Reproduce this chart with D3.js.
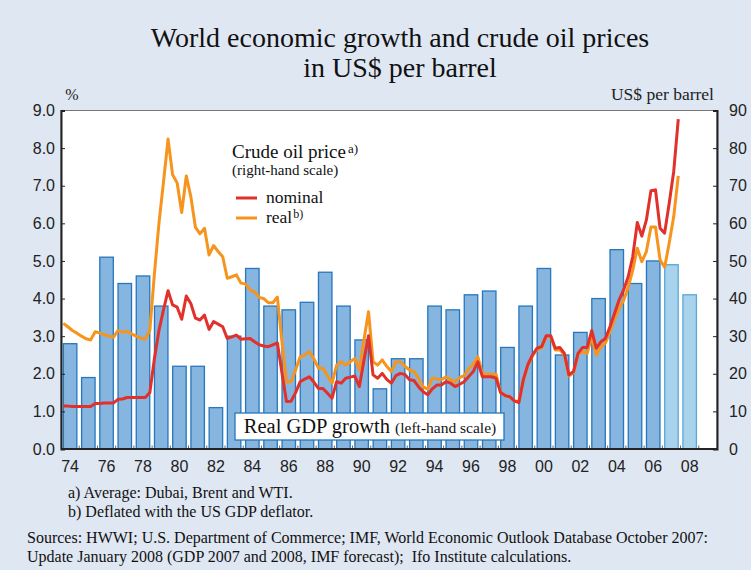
<!DOCTYPE html>
<html>
<head>
<meta charset="utf-8">
<script src="https://cdn.jsdelivr.net/npm/d3@7"></script>
<style>
  html, body { margin: 0; padding: 0; background: #dfe7f3; }
  svg { display: block; }
</style>
</head>
<body>
<svg id="chart"></svg>
<script>
// GDP growth, % (left-hand scale); 2007 and 2008 are IMF forecasts
var years = d3.range(1974, 2009)
var gdp = [2.8, 1.9, 5.1, 4.4, 4.6, 3.8, 2.2, 2.2, 1.1, 3.0,
           4.8, 3.8, 3.7, 3.9, 4.7, 3.8, 2.9, 1.6, 2.4, 2.4,
           3.8, 3.7, 4.1, 4.2, 2.7, 3.8, 4.8, 2.5, 3.1, 4.0,
           5.3, 4.4, 5.0, 4.9, 4.1]
var forecastYears = [2007, 2008]

// crude oil price, US$ per barrel, quarterly 1974Q1 .. 2007Q4 (one row per year)
var nominal = [
  11.4, 11.4, 11.3, 11.3,  11.3, 11.3, 11.3, 12.1,  12.1, 12.2, 12.2, 12.2,
  13.2, 13.3, 13.7, 13.7,  13.7, 13.7, 13.7, 15.0,  24.0, 31.5, 37.0, 42.1,
  38.3, 37.7, 34.5, 40.7,  38.7, 34.8, 34.3, 35.6,  31.8, 33.9, 33.2, 32.5,
  29.4, 29.8, 30.3, 29.2,  29.3, 29.4, 28.5, 27.7,  27.4, 27.2, 27.7, 28.2,
  20.3, 12.6, 12.7, 15.0,  17.9, 18.6, 19.2, 17.8,  16.1, 16.1, 14.8, 13.5,
  17.9, 17.5, 18.8, 19.1,  19.4, 16.6, 23.5, 30.1,  19.7, 18.8, 20.1, 18.5,
  17.5, 19.5, 20.1, 19.8,  18.4, 18.2, 16.5, 15.2,  14.4, 16.0, 17.0, 17.0,
  17.9, 17.5, 16.6, 17.2,  17.9, 19.3, 20.6, 23.2,  19.2, 19.2, 19.2, 18.8,
  15.0, 14.2, 13.9, 12.8,  12.3, 18.5, 22.5, 25.0,  26.8, 27.2, 30.1, 30.1,
  26.8, 27.0, 25.4, 19.7,  20.6, 25.4, 27.0, 27.0,  31.5, 26.8, 28.5, 29.4,
  32.5, 36.0, 39.6, 42.3,  45.8, 51.1, 60.2, 56.6,  60.9, 68.7, 68.9, 58.7,
  57.4, 65.3, 73.8, 87.7
]
var real = [
  33.4, 32.5, 31.5, 30.8,  30.0, 29.3, 29.0, 31.2,  30.8, 30.4, 30.0, 29.7,
  31.5, 31.0, 31.3, 30.6,  30.0, 29.5, 29.2, 31.6,  46.5, 60.0, 71.0, 82.4,
  72.9, 70.7, 62.9, 72.6,  67.1, 59.0, 57.2, 58.7,  51.6, 54.1, 52.5, 51.1,
  45.4, 45.8, 46.3, 44.1,  43.9, 42.3, 41.8, 40.3,  40.0, 38.9, 38.9, 40.4,
  28.5, 17.9, 17.9, 21.0,  24.5, 25.0, 25.9, 24.0,  21.5, 21.5, 19.5, 17.5,
  22.3, 23.2, 22.3, 23.2,  24.1, 21.0, 29.0, 36.5,  23.2, 22.3, 23.7, 22.0,
  20.6, 23.2, 23.2, 22.0,  21.0, 20.6, 18.8, 16.5,  15.9, 18.8, 18.6, 18.4,
  19.2, 18.4, 17.9, 19.0,  19.5, 21.4, 22.5, 24.5,  20.1, 19.9, 19.9, 19.9,
  15.0, 14.2, 13.9, 12.8,  12.6, 18.3, 22.3, 24.8,  26.5, 26.9, 29.9, 29.9,
  26.3, 26.4, 25.0, 19.4,  20.3, 25.2, 25.9, 25.4,  29.9, 25.0, 27.2, 28.1,
  31.2, 34.5, 37.4, 39.5,  43.0, 47.5, 53.4, 49.8,  52.5, 59.0, 59.0, 50.3,
  48.3, 54.7, 61.8, 72.6
]

var leftTicks = d3.range(0, 9.01, 1)
var rightTicks = d3.range(0, 91, 10)
var xLabelYears = d3.range(1974, 2009, 2)

var title = ["World economic growth and crude oil prices", "in US$ per barrel"]
var notes = ["a) Average: Dubai, Brent and WTI.", "b) Deflated with the US GDP deflator."]
var sources = ["Sources: HWWI; U.S. Department of Commerce; IMF, World Economic Outlook Database October 2007:",
               "Update January 2008 (GDP 2007 and 2008, IMF forecast);  Ifo Institute calculations."]

var width = 751, height = 570
var margin = {top: 110.5, right: 34, bottom: 121, left: 61}
var serif = "'Liberation Serif', 'Times New Roman', serif"
var sans = "'Liberation Sans', Arial, sans-serif"

var svg = d3.select("#chart").attr("width", width).attr("height", height)
svg.append("rect").attr("width", width).attr("height", height).attr("fill", "#dfe7f3")

var plotRight = width - margin.right
var plotBottom = height - margin.bottom
var step = (plotRight - margin.left) / 36

var x = d3.scaleBand()
  .domain(years)
  .range([margin.left, margin.left + step * years.length])
  .paddingInner(0.26)
  .paddingOuter(0.13)
var t = d3.scaleLinear()
  .domain([1974, 2009])
  .range([margin.left, margin.left + step * years.length])
var yL = d3.scaleLinear().domain([0, 9]).range([plotBottom, margin.top])
var yR = d3.scaleLinear().domain([0, 90]).range([plotBottom, margin.top])

// plot area
svg.append("rect")
  .attr("x", margin.left).attr("y", margin.top)
  .attr("width", plotRight - margin.left).attr("height", plotBottom - margin.top)
  .attr("fill", "#fff")

// title
svg.append("g").selectAll("text").data(title).join("text")
  .attr("x", 400).attr("y", (d, i) => 47 + i * 30)
  .attr("text-anchor", "middle")
  .attr("font-family", serif).attr("font-size", 28).attr("fill", "#111")
  .text(d => d)

// bars
svg.append("g").selectAll("rect").data(years).join("rect")
  .attr("x", d => x(d))
  .attr("width", x.bandwidth())
  .attr("y", (d, i) => yL(gdp[i]))
  .attr("height", (d, i) => yL(0) - yL(gdp[i]))
  .attr("fill", d => forecastYears.includes(d) ? "#a9d3ec" : "#86b5df")
  .attr("stroke", d => forecastYears.includes(d) ? "#5aa8d8" : "#2677bd")
  .attr("stroke-width", 1.3)

// small ticks between bars
svg.append("g").selectAll("line").data(d3.range(1975, 2010)).join("line")
  .attr("x1", d => t(d)).attr("x2", d => t(d))
  .attr("y1", plotBottom).attr("y2", plotBottom - 3.5)
  .attr("stroke", "#666").attr("stroke-width", 1)

// oil price lines
var quarters = nominal.map((d, i) => 1974 + i / 4 + 0.125)
var line = d3.line()
  .x((d, i) => t(quarters[i]))
  .y(d => yR(d))
  .curve(d3.curveLinear)

svg.append("path").datum(real)
  .attr("fill", "none").attr("stroke", "#f7941d").attr("stroke-width", 3)
  .attr("stroke-linejoin", "round").attr("d", line)
svg.append("path").datum(nominal)
  .attr("fill", "none").attr("stroke", "#e2302a").attr("stroke-width", 3)
  .attr("stroke-linejoin", "round").attr("d", line)

// frame
svg.append("rect")
  .attr("x", margin.left).attr("y", margin.top)
  .attr("width", plotRight - margin.left).attr("height", plotBottom - margin.top)
  .attr("fill", "none").attr("stroke", "#777").attr("stroke-width", 1)

// axes
var leftAxis = svg.append("g")
  .attr("transform", `translate(${margin.left},0)`)
  .call(d3.axisRight(yL).tickValues(leftTicks).tickSize(4).tickFormat(d3.format(".1f")))
leftAxis.selectAll("text").attr("x", -6).attr("text-anchor", "end")
var rightAxis = svg.append("g")
  .attr("transform", `translate(${plotRight},0)`)
  .call(d3.axisLeft(yR).tickValues(rightTicks).tickSize(4).tickFormat(d3.format("d")))
rightAxis.selectAll("text").attr("x", 12).attr("text-anchor", "start")
;[leftAxis, rightAxis].forEach(a => {
  a.select(".domain").attr("stroke", "#222").attr("stroke-width", 2)
  a.selectAll(".tick line").attr("stroke", "#222")
  a.selectAll("text").attr("font-family", sans).attr("font-size", 16).attr("fill", "#222")
})
svg.append("line")
  .attr("x1", margin.left).attr("x2", plotRight)
  .attr("y1", plotBottom).attr("y2", plotBottom)
  .attr("stroke", "#222").attr("stroke-width", 2)

var xAxis = svg.append("g")
  .attr("transform", `translate(0,${plotBottom})`)
  .call(d3.axisBottom(x).tickValues(xLabelYears).tickSize(0).tickPadding(12)
    .tickFormat(d => String(d).slice(2)))
xAxis.select(".domain").remove()
xAxis.selectAll("text").attr("font-family", sans).attr("font-size", 16).attr("fill", "#222")

// axis units
svg.append("text").attr("x", 72).attr("y", 100).attr("text-anchor", "middle")
  .attr("font-family", serif).attr("font-size", 16).attr("fill", "#222").text("%")
svg.append("text").attr("x", 714).attr("y", 100).attr("text-anchor", "end")
  .attr("font-family", serif).attr("font-size", 17.5).attr("fill", "#222").text("US$ per barrel")

// legend
var lg = svg.append("g").attr("font-family", serif).attr("fill", "#111")
var lt = lg.append("text").attr("x", 232).attr("y", 158).attr("font-size", 19)
lt.append("tspan").text("Crude oil price")
lt.append("tspan").attr("font-size", 13).attr("dy", -5).attr("dx", 2).text("a)")
lg.append("text").attr("x", 232).attr("y", 175).attr("font-size", 15).text("(right-hand scale)")
var legendItems = [
  {label: "nominal", sup: "", color: "#e2302a", y: 198},
  {label: "real", sup: "b)", color: "#f7941d", y: 218}
]
legendItems.forEach(d => {
  lg.append("line").attr("x1", 236).attr("x2", 257).attr("y1", d.y).attr("y2", d.y)
    .attr("stroke", d.color).attr("stroke-width", 3)
  var tx = lg.append("text").attr("x", 266).attr("y", d.y + 5).attr("font-size", 17.5)
  tx.append("tspan").text(d.label)
  if (d.sup) tx.append("tspan").attr("font-size", 12).attr("dy", -5).attr("dx", 1).text(d.sup)
})

// GDP label box
svg.append("rect").attr("x", 235).attr("y", 413).attr("width", 269).attr("height", 27)
  .attr("fill", "#fff").attr("stroke", "#2677bd").attr("stroke-width", 1.3)
var gt = svg.append("text").attr("x", 370).attr("y", 433).attr("text-anchor", "middle")
  .attr("font-family", serif).attr("fill", "#111")
gt.append("tspan").attr("font-size", 20.5).text("Real GDP growth ")
gt.append("tspan").attr("font-size", 15.5).text("(left-hand scale)")

// footnotes
svg.append("g").selectAll("text").data(notes).join("text")
  .attr("x", 68).attr("y", (d, i) => 498 + i * 19)
  .attr("font-family", serif).attr("font-size", 16).attr("fill", "#111")
  .text(d => d)
svg.append("g").selectAll("text").data(sources).join("text")
  .attr("x", 27).attr("y", (d, i) => 543 + i * 19)
  .attr("font-family", serif).attr("font-size", 16).attr("fill", "#111")
  .style("white-space", "pre")
  .text(d => d)
</script>
</body>
</html>
